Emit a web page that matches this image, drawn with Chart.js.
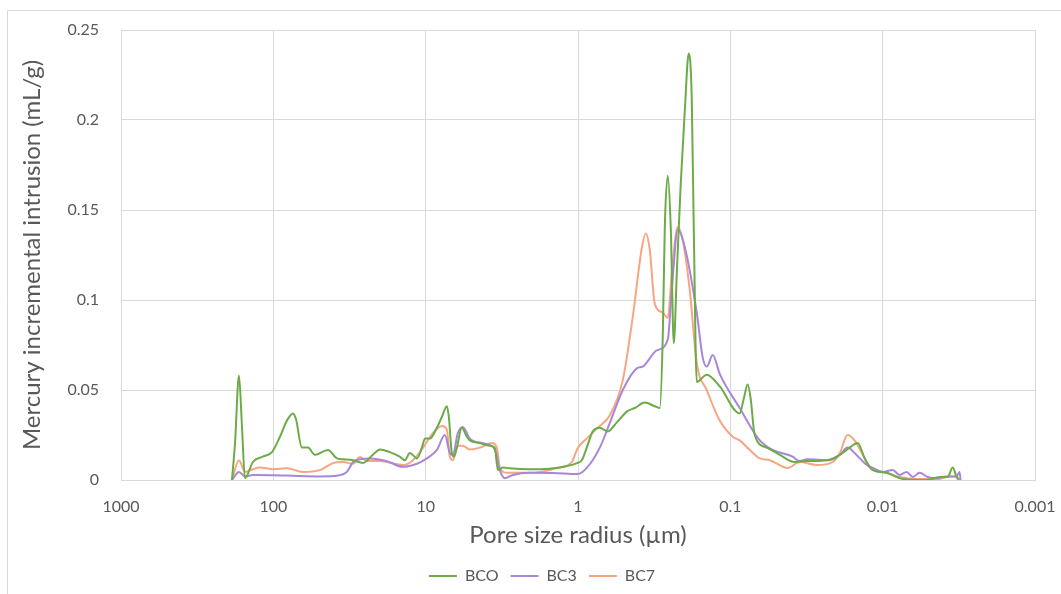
<!DOCTYPE html>
<html>
<head>
<meta charset="utf-8">
<script src="https://cdn.jsdelivr.net/npm/chart.js@4/dist/chart.umd.min.js"></script>
<style>
  html, body { margin: 0; padding: 0; background: #ffffff; }
  #wrap { width: 1061px; height: 594px; position: relative; }
</style>
</head>
<body>
<div id="wrap"><canvas id="chart" width="1061" height="594"></canvas></div>
<script>
// Pore size radius (µm) and incremental intrusion (mL/g)
const bcoRadius = [186.9, 178.6, 168.1, 160.7, 153.6, 136.1, 117.0, 102.1, 90.5, 81.4, 74.4, 71.1, 64.9, 59.3, 53.3,
  43.8, 38.2, 34.9, 30.0, 25.8, 22.2, 20.0, 17.2, 14.8, 13.7, 12.7, 11.4, 10.6, 10.1, 9.385, 8.443, 7.830, 7.261,
  7.045, 6.733, 6.532, 6.243, 5.788, 5.366, 5.129, 4.409, 3.791, 3.516, 3.360, 3.115, 2.802, 2.072, 1.781, 1.316,
  1.018, 0.944, 0.876, 0.800, 0.719, 0.637, 0.556, 0.478, 0.424, 0.3645, 0.3134, 0.2904, 0.2776, 0.2694, 0.2574,
  0.2460, 0.2350, 0.2246, 0.2115, 0.1991, 0.1875, 0.1792, 0.1738, 0.1661, 0.1428, 0.1174, 0.0868, 0.0817, 0.0769,
  0.0735, 0.0692, 0.0577, 0.0474, 0.0378, 0.0315, 0.0233, 0.0191, 0.0165, 0.0146, 0.0131, 0.0116, 0.00941, 0.00739,
  0.00514, 0.00423, 0.00374, 0.00347, 0.00327, 0.00317];
const bcoIntrusion = [0, 0.02, 0.058, 0.03, 0.001, 0.010, 0.013, 0.0155, 0.024, 0.033, 0.037, 0.034, 0.018, 0.018, 0.014,
  0.0167, 0.012, 0.0115, 0.011, 0.0095, 0.014, 0.017, 0.0155, 0.013, 0.011, 0.015, 0.012, 0.0178, 0.023, 0.023, 0.029,
  0.035, 0.041, 0.035, 0.015, 0.013, 0.018, 0.029, 0.024, 0.022, 0.0205, 0.019, 0.0178, 0.0055, 0.007, 0.0065, 0.006,
  0.006, 0.007, 0.0094, 0.011, 0.018, 0.027, 0.029, 0.027, 0.032, 0.038, 0.040, 0.043, 0.041, 0.040, 0.08, 0.14,
  0.169, 0.14, 0.076, 0.115, 0.165, 0.205, 0.237, 0.212, 0.14, 0.0545, 0.0585, 0.052, 0.037, 0.045, 0.053, 0.045,
  0.025, 0.018, 0.014, 0.010, 0.0105, 0.011, 0.014, 0.018, 0.0206, 0.012, 0.0055, 0.004, 0.0006, 0, 0.0017, 0.0017,
  0.007, 0.0017, 0];

const bc3Radius = [186.9, 168.1, 153.6, 136.1, 81.4, 49.5, 37.7, 32.9, 30.0, 27.0, 23.2, 18.0, 14.1, 11.4, 9.82, 8.443,
  7.483, 6.939, 6.632, 6.149, 5.701, 5.129, 4.213, 3.516, 3.260, 3.022, 2.677, 2.072, 1.463, 1.003, 0.876, 0.719,
  0.618, 0.508, 0.411, 0.376, 0.304, 0.2574, 0.2423, 0.2213, 0.1991, 0.1661, 0.1518, 0.1428, 0.1304, 0.1174, 0.0868,
  0.0641, 0.0527, 0.0390, 0.0350, 0.0315, 0.0223, 0.0191, 0.0170, 0.0153, 0.0127, 0.0116, 0.0100, 0.00860, 0.00774,
  0.00696, 0.00635, 0.00572, 0.00507, 0.00442, 0.00380, 0.00327, 0.00313, 0.00308];
const bc3Intrusion = [0, 0.0045, 0.002, 0.0028, 0.0025, 0.002, 0.0025, 0.0045, 0.010, 0.0115, 0.012, 0.0105, 0.0073,
  0.009, 0.012, 0.0167, 0.025, 0.015, 0.014, 0.026, 0.0295, 0.023, 0.0205, 0.017, 0.0055, 0.001, 0.0028, 0.004, 0.0039,
  0.0033, 0.0067, 0.018, 0.0317, 0.050, 0.062, 0.063, 0.072, 0.078, 0.1056, 0.139, 0.1295, 0.093, 0.068, 0.063, 0.0694,
  0.059, 0.040, 0.022, 0.0167, 0.013, 0.0105, 0.0115, 0.011, 0.014, 0.018, 0.015, 0.0083, 0.0067, 0.0045, 0.0055,
  0.0028, 0.0045, 0.0017, 0.004, 0.0017, 0.001, 0.002, 0.002, 0.0045, 0];

const bc7Radius = [186.9, 168.1, 153.6, 136.1, 122.4, 100.6, 81.4, 63.9, 49.5, 40.6, 34.9, 30.0, 27.0, 24.3, 20.0, 18.0,
  14.1, 12.1, 10.4, 8.969, 7.830, 7.261, 6.939, 6.632, 6.149, 5.701, 5.129, 4.409, 3.679, 3.411, 3.260, 2.932, 2.072,
  1.781, 1.316, 1.098, 1.003, 0.876, 0.742, 0.618, 0.508, 0.437, 0.381, 0.359, 0.338, 0.3134, 0.2776, 0.2574, 0.2423,
  0.2213, 0.2052, 0.1847, 0.1661, 0.1428, 0.1174, 0.0964, 0.0868, 0.0746, 0.0641, 0.0551, 0.0420, 0.0350, 0.0271,
  0.0213, 0.0191, 0.0170, 0.0153, 0.0135, 0.0122, 0.0100, 0.00774, 0.00598, 0.00423, 0.00363, 0.00327, 0.00313];
const bc7Intrusion = [0, 0.011, 0.0045, 0.006, 0.007, 0.006, 0.0065, 0.0045, 0.0055, 0.0094, 0.010, 0.009, 0.0128,
  0.0106, 0.0106, 0.010, 0.0083, 0.011, 0.018, 0.026, 0.030, 0.028, 0.013, 0.011, 0.019, 0.019, 0.017, 0.018, 0.0205,
  0.018, 0.007, 0.004, 0.004, 0.0045, 0.007, 0.010, 0.0178, 0.023, 0.029, 0.036, 0.0555, 0.0906, 0.129, 0.137, 0.128,
  0.098, 0.093, 0.090, 0.115, 0.1406, 0.133, 0.1056, 0.065, 0.050, 0.033, 0.024, 0.022, 0.0167, 0.012, 0.011, 0.0067,
  0.010, 0.0083, 0.010, 0.015, 0.025, 0.022, 0.014, 0.007, 0.0045, 0.0017, 0.0006, 0.0006, 0.002, 0.002, 0];

const xTicks = [1000, 100, 10, 1, 0.1, 0.01, 0.001];
const xTickLabels = ['1000', '100', '10', '1', '0.1', '0.01', '0.001'];
const yTicks = [0, 0.05, 0.1, 0.15, 0.2, 0.25];
const yTickLabels = ['0', '0.05', '0.1', '0.15', '0.2', '0.25'];

const seriesNames = ['BCO', 'BC3', 'BC7'];
const seriesColors = ['#6cab47', '#a887d9', '#f6a682'];

const textColor = '#595959';
const gridColor = '#d9d9d9';
const fontFamily = "Lato, 'Open Sans', sans-serif";

function toPoints(radius, values) {
  return radius.map((r, i) => ({ x: r, y: values[i] }));
}

// Thin frame along the left and top edges, like the Excel chart border
const framePlugin = {
  id: 'frame',
  beforeDraw(chart) {
    const ctx = chart.ctx;
    ctx.save();
    ctx.fillStyle = '#ffffff';
    ctx.fillRect(0, 0, chart.width, chart.height);
    ctx.strokeStyle = gridColor;
    ctx.lineWidth = 1;
    ctx.beginPath();
    ctx.moveTo(7.5, chart.height);
    ctx.lineTo(7.5, 10.5);
    ctx.lineTo(chart.width, 10.5);
    ctx.stroke();
    ctx.restore();
  }
};

// Excel centres the legend a little right of the canvas middle
const legendShift = {
  id: 'legendShift',
  afterLayout(chart) {
    const lg = chart.legend;
    if (!lg) return;
    const dx = 542 - (lg.left + lg.right) / 2;
    lg.left += dx;
    lg.right += dx;
  }
};

const ctx = document.getElementById('chart');
new Chart(ctx, {
  type: 'line',
  data: {
    datasets: [
      { label: seriesNames[0], data: toPoints(bcoRadius, bcoIntrusion), borderColor: seriesColors[0], backgroundColor: seriesColors[0] },
      { label: seriesNames[1], data: toPoints(bc3Radius, bc3Intrusion), borderColor: seriesColors[1], backgroundColor: seriesColors[1] },
      { label: seriesNames[2], data: toPoints(bc7Radius, bc7Intrusion), borderColor: seriesColors[2], backgroundColor: seriesColors[2] }
    ].map(ds => ({
      ...ds,
      borderWidth: 2,
      pointRadius: 0,
      fill: false,
      cubicInterpolationMode: 'monotone'
    }))
  },
  options: {
    responsive: false,
    animation: false,
    layout: { padding: { left: 0, right: 26, top: 30, bottom: 0 } },
    scales: {
      x: {
        type: 'logarithmic',
        reverse: true,
        min: 0.001,
        max: 1000,
        afterBuildTicks(scale) {
          scale.ticks = xTicks.map(v => ({ value: v }));
        },
        afterFit(scale) {
          scale.height = 76;
          scale.paddingLeft = 0;
          scale.paddingRight = 0;
        },
        ticks: {
          autoSkip: false,
          maxRotation: 0,
          padding: 17,
          color: textColor,
          font: { family: fontFamily, size: 16 },
          callback: (value) => {
            const i = xTicks.indexOf(value);
            return i >= 0 ? xTickLabels[i] : '';
          }
        },
        grid: { color: gridColor, drawTicks: false },
        border: { color: gridColor },
        title: {
          display: true,
          text: 'Pore size radius (µm)',
          color: textColor,
          font: { family: fontFamily, size: 24 },
          padding: { top: 4, bottom: 6 }
        }
      },
      y: {
        min: 0,
        max: 0.25,
        afterBuildTicks(scale) {
          scale.ticks = yTicks.map(v => ({ value: v }));
        },
        afterFit(scale) {
          scale.width = 121;
          scale.paddingTop = 0;
          scale.paddingBottom = 0;
        },
        ticks: {
          padding: 22,
          color: textColor,
          font: { family: fontFamily, size: 16 },
          callback: (value) => {
            const i = yTicks.findIndex(t => Math.abs(t - value) < 1e-9);
            return i >= 0 ? yTickLabels[i] : '';
          }
        },
        grid: { color: gridColor, drawTicks: false },
        border: { display: false },
        title: {
          display: true,
          text: 'Mercury incremental intrusion (mL/g)',
          color: textColor,
          font: { family: fontFamily, size: 24 },
          padding: { top: 18, bottom: 0 }
        }
      }
    },
    plugins: {
      legend: {
        position: 'bottom',
        labels: {
          usePointStyle: true,
          pointStyle: 'line',
          pointStyleWidth: 28,
          boxHeight: 12,
          padding: 12,
          color: textColor,
          font: { family: fontFamily, size: 16 }
        }
      },
      tooltip: { enabled: false }
    }
  },
  plugins: [framePlugin, legendShift]
});
</script>
</body>
</html>
